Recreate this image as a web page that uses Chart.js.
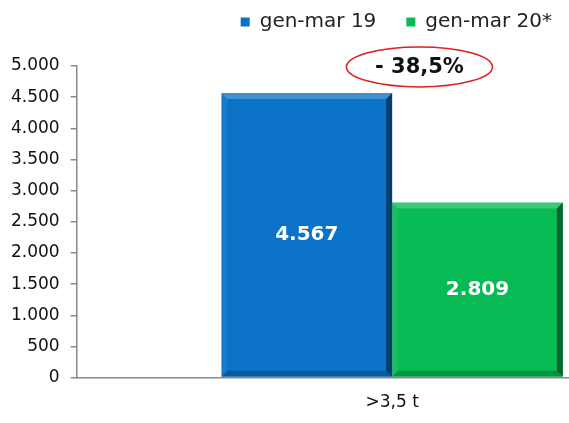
<!DOCTYPE html>
<html>
<head>
<meta charset="utf-8">
<script src="https://cdn.jsdelivr.net/npm/chart.js@4/dist/chart.umd.min.js"></script>
<style>
  html, body { margin: 0; padding: 0; background: #fff; }
  #wrap { width: 569px; height: 423px; }
</style>
</head>
<body>
<div id="wrap"><canvas id="c"></canvas></div>
<script>
// ---- data ----
const categories = ['>3,5 t'];
const seriesNames = ['gen-mar 19', 'gen-mar 20*'];
const seriesA = [4567];
const seriesB = [2809];
const yTicks = [0, 500, 1000, 1500, 2000, 2500, 3000, 3500, 4000, 4500, 5000];

// ---- styles ----
const COLORS = ['#0A72C7', '#08BA54'];
const X_MIN = -0.424, X_MAX = 1.018;
const FONT = 'DejaVu Sans, Verdana, sans-serif';

function fmt(v) {
  return String(v).replace(/\B(?=(\d{3})+(?!\d))/g, '.');
}
function pctLabel(a, b) {
  const p = (b - a) / a * 100;
  const s = Math.abs(p).toFixed(1).replace('.', ',');
  return (p < 0 ? '- ' : '+ ') + s + '%';
}

const bevelPlugin = {
  id: 'bevel',
  afterDatasetsDraw(chart) {
    const ctx = chart.ctx;
    chart.data.datasets.forEach((ds, di) => {
      const meta = chart.getDatasetMeta(di);
      meta.data.forEach(el => {
        const p = el.getProps(['x', 'y', 'base', 'width'], true);
        const l = p.x - p.width / 2, r = p.x + p.width / 2, t = p.y, b = p.base;
        const e = 6;
        const poly = (pts, fill) => {
          ctx.beginPath();
          ctx.moveTo(pts[0][0], pts[0][1]);
          for (let i = 1; i < pts.length; i++) ctx.lineTo(pts[i][0], pts[i][1]);
          ctx.closePath();
          ctx.fillStyle = fill;
          ctx.fill();
        };
        ctx.save();
        poly([[l, t], [r, t], [r - e, t + e], [l + e, t + e]], 'rgba(255,255,255,0.22)');
        poly([[l, t], [l + e, t + e], [l + e, b - e], [l, b]], 'rgba(255,255,255,0.06)');
        poly([[r, t], [r, b], [r - e, b - e], [r - e, t + e]], 'rgba(0,0,0,0.45)');
        poly([[l, b], [l + e, b - e], [r - e, b - e], [r, b]], 'rgba(0,0,0,0.2)');
        ctx.restore();
      });
    });
  }
};

const valueLabelPlugin = {
  id: 'valueLabels',
  afterDatasetsDraw(chart) {
    const ctx = chart.ctx;
    ctx.save();
    ctx.font = 'bold 20px ' + FONT;
    ctx.fillStyle = '#ffffff';
    ctx.textAlign = 'center';
    ctx.textBaseline = 'middle';
    chart.data.datasets.forEach((ds, di) => {
      const meta = chart.getDatasetMeta(di);
      meta.data.forEach((el, i) => {
        const p = el.getProps(['x', 'y', 'base'], true);
        ctx.fillText(fmt(ds.data[i].y), p.x, (p.y + p.base) / 2);
      });
    });
    ctx.restore();
  }
};

const annotationPlugin = {
  id: 'changeNote',
  afterDraw(chart, args, opts) {
    const ctx = chart.ctx;
    const xs = chart.scales.x, ys = chart.scales.y;
    const cx = xs.getPixelForValue(opts.xValue);
    const cy = ys.getPixelForValue(opts.yValue);
    ctx.save();
    ctx.beginPath();
    ctx.ellipse(cx, cy, opts.rx, opts.ry, 0, 0, Math.PI * 2);
    ctx.strokeStyle = '#E0201E';
    ctx.lineWidth = 1.6;
    ctx.stroke();
    ctx.font = 'bold 21px ' + FONT;
    ctx.fillStyle = '#111';
    ctx.textAlign = 'center';
    ctx.textBaseline = 'middle';
    ctx.fillText(pctLabel(seriesA[0], seriesB[0]), cx, cy + 1);
    ctx.restore();
  }
};

const toPoints = arr => arr.map((v, i) => ({ x: i + 0.5, y: v }));

new Chart(document.getElementById('c'), {
  type: 'bar',
  data: {
    datasets: [
      { label: seriesNames[0], data: toPoints(seriesA), backgroundColor: COLORS[0], borderWidth: 0 },
      { label: seriesNames[1], data: toPoints(seriesB), backgroundColor: COLORS[1], borderWidth: 0 }
    ]
  },
  options: {
    responsive: true,
    maintainAspectRatio: false,
    animation: false,
    devicePixelRatio: 1,
    categoryPercentage: 1 / (X_MAX - X_MIN),
    barPercentage: 1,
    layout: { padding: { left: 0, right: -13, top: -18, bottom: -5 } },
    plugins: {
      legend: {
        display: true,
        position: 'top',
        align: 'end',
        weight: 1000,
        labels: {
          boxWidth: 9,
          boxHeight: 9,
          padding: 30,
          color: '#222',
          font: { family: FONT, size: 20 }
        }
      },
      title: {
        display: true,
        text: '',
        position: 'top',
        weight: 100,
        font: { family: FONT, size: 10 },
        padding: { top: 0, bottom: 12 }
      },
      tooltip: { enabled: false },
      changeNote: { xValue: 0.58, yValue: 4985, rx: 73, ry: 20 }
    },
    scales: {
      x: {
        type: 'linear',
        min: X_MIN,
        max: X_MAX,
        offset: false,
        afterBuildTicks(scale) {
          scale.ticks = categories.map((c, i) => ({ value: i + 0.5 }));
        },
        ticks: {
          autoSkip: false,
          maxRotation: 0,
          padding: 15,
          color: '#111',
          font: { family: FONT, size: 17 },
          callback(value, index) { return categories[index]; }
        },
        grid: { display: false, drawTicks: false },
        border: { display: true, color: '#8a8a8a', width: 1.5 }
      },
      y: {
        min: 0,
        max: 5000,
        afterBuildTicks(scale) {
          scale.ticks = yTicks.map(v => ({ value: v }));
        },
        ticks: {
          padding: 11,
          color: '#111',
          font: { family: FONT, size: 17 },
          callback(value) { return fmt(value); }
        },
        grid: { display: true, drawOnChartArea: false, drawTicks: true, tickLength: 6, color: '#8a8a8a', lineWidth: 1.5 },
        border: { display: true, color: '#8a8a8a', width: 1.5 }
      }
    }
  },
  plugins: [bevelPlugin, valueLabelPlugin, annotationPlugin]
});
</script>
</body>
</html>
